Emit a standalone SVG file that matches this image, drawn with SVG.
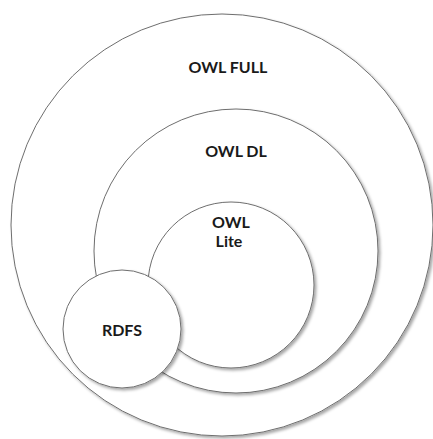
<svg xmlns="http://www.w3.org/2000/svg" width="433" height="439" viewBox="0 0 433 439">
<defs>
<filter id="sh" x="-10%" y="-10%" width="125%" height="125%">
<feDropShadow dx="2" dy="2" stdDeviation="1.5" flood-color="#000" flood-opacity="0.35"/>
</filter>
</defs>
<style>
.c{fill:#fff;stroke:#6e6e6e;stroke-width:1;filter:url(#sh)}
.t{font-family:Lato,"Open Sans","Liberation Sans",sans-serif;font-weight:bold;font-size:16px;fill:#1a1a1a;text-anchor:middle}
</style>
<rect width="433" height="439" fill="#fff"/>
<g id="owl-full"><circle class="c" cx="222" cy="225" r="211"/><text class="t" x="228" y="73">OWL FULL</text></g>
<g id="owl-dl"><circle class="c" cx="236" cy="251" r="142"/><text class="t" x="236" y="157">OWL DL</text></g>
<g id="owl-lite"><circle class="c" cx="231" cy="285" r="83"/><text class="t" x="231" y="228">OWL</text><text class="t" x="229" y="247">Lite</text></g>
<g id="rdfs"><circle class="c" cx="122" cy="329" r="59"/><text class="t" x="122" y="336">RDFS</text></g>
<g id="connectors"/>
</svg>
